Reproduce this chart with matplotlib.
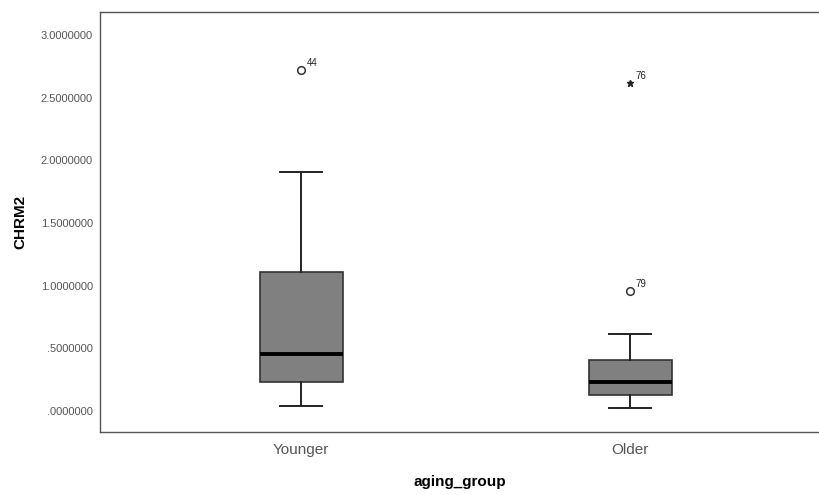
import matplotlib
matplotlib.use("Agg")
import matplotlib.pyplot as plt

# box statistics (SPSS style boxplot)
groups = ["Younger", "Older"]
q1 = [0.231, 0.128]
medians = [0.455, 0.231]
q3 = [1.109, 0.407]
whisk_lo = [0.040, 0.024]
whisk_hi = [1.907, 0.614]

# outliers: (group index, value, case label)
outlier_grp = [0, 1]
outlier_val = [2.72, 0.958]
outlier_lbl = ["44", "79"]
# extreme values
extreme_grp = [1]
extreme_val = [2.618]
extreme_lbl = ["76"]

yticks = [0.0, 0.5, 1.0, 1.5, 2.0, 2.5, 3.0]

plt.rcParams['font.family'] = ['Liberation Sans', 'DejaVu Sans']

fig = plt.figure(figsize=(8.19, 4.95), dpi=100)
ax = fig.add_axes([0.1221, 0.1273, 0.8779, 0.8485])

stats = []
for i, g in enumerate(groups):
    stats.append({"label": g, "q1": q1[i], "med": medians[i], "q3": q3[i],
                  "whislo": whisk_lo[i], "whishi": whisk_hi[i], "fliers": []})

pos = [1, 2]
ax.bxp(stats, positions=pos, widths=0.252, patch_artist=True, showfliers=False,
       boxprops=dict(facecolor="#808080", edgecolor="#333333", linewidth=1.2),
       medianprops=dict(color="black", linewidth=2.8),
       whiskerprops=dict(color="#222222", linewidth=1.4),
       capprops=dict(color="#222222", linewidth=1.4),
       capwidths=0.126)

for g, v, l in zip(outlier_grp, outlier_val, outlier_lbl):
    ax.plot(pos[g], v, marker="o", markersize=5.5, markerfacecolor="white",
            markeredgecolor="#333333", markeredgewidth=1.1, linestyle="none")
    ax.annotate(l, (pos[g], v), xytext=(4, 3), textcoords="offset points",
                fontsize=7, color="#222222")

for g, v, l in zip(extreme_grp, extreme_val, extreme_lbl):
    ax.plot(pos[g], v, marker="*", markersize=5, color="#222222", linestyle="none")
    ax.annotate(l, (pos[g], v), xytext=(4, 3), textcoords="offset points",
                fontsize=7, color="#222222")

ax.set_xlim(0.389, 2.574)
ax.set_ylim(-0.168, 3.184)
ax.set_yticks(yticks)
ax.set_yticklabels([("%.7f" % t).lstrip("0") if t < 1 else "%.7f" % t for t in yticks])
ax.set_xticks(pos)
ax.set_xticklabels(groups)
ax.tick_params(axis="y", length=0, labelsize=8, labelcolor="#555555", pad=5)
ax.tick_params(axis="x", length=0, labelsize=11, labelcolor="#555555", pad=8)

for s in ax.spines.values():
    s.set_color("#555555")
    s.set_linewidth(1.0)
ax.spines["right"].set_visible(False)

ax.set_xlabel("aging_group", fontsize=11, fontweight="bold", labelpad=13)
ax.set_ylabel("CHRM2", fontsize=11, fontweight="bold", labelpad=10)

fig.savefig("out.png", dpi=100)
